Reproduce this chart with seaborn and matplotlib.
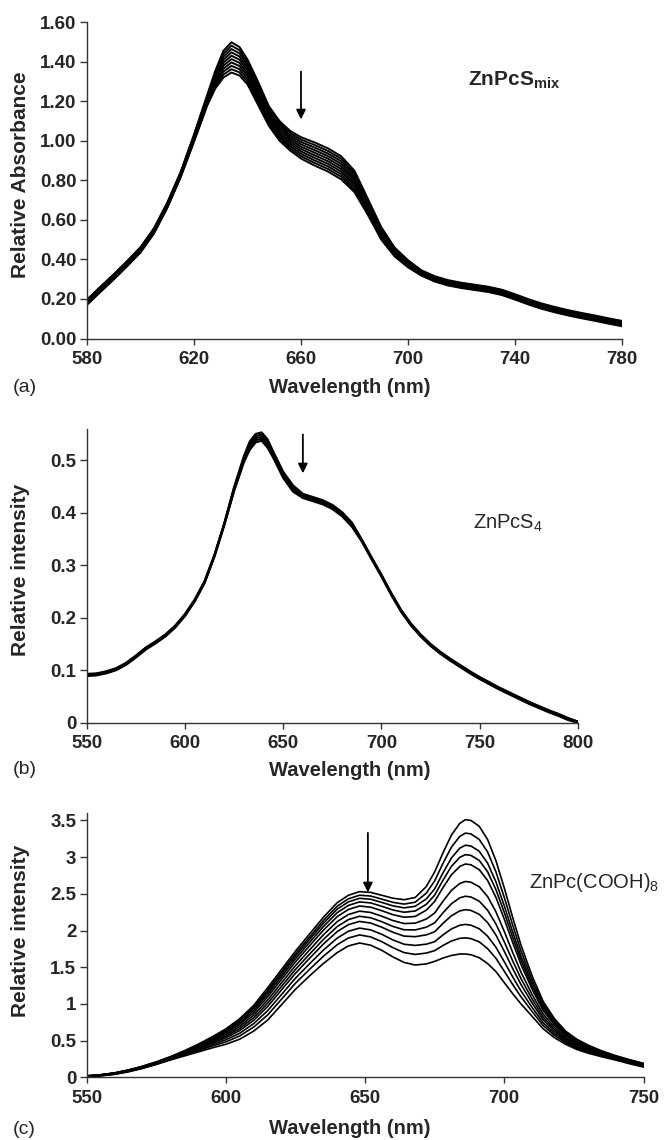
import matplotlib
matplotlib.use("Agg")
import matplotlib.pyplot as plt
import pandas as pd
import seaborn as sns

## Data
# (a) ZnPcS_mix relative absorbance, one list per spectrum (lowest peak first)
wl_a = [580, 585, 590, 595, 600, 605, 610, 615, 620, 625, 628, 631, 634, 637, 640, 644, 648, 652, 656, 660,
        665, 670, 675, 680, 685, 690, 695, 700, 705, 710, 715, 720, 725, 730, 735, 740, 745, 750, 755, 760,
        765, 770, 775, 780]
abs_a = [
    [.170, .235, .298, .365, .435, .530, .660, .815, .995, 1.180, 1.265, 1.320, 1.345, 1.330, 1.285, 1.180, 1.075, 1.000, .950, .910,
     .875, .845, .805, .740, .625, .500, .415, .360, .318, .288, .268, .255, .245, .235, .220, .197, .172, .150, .132, .116,
     .102, .089, .075, .062],
    [.173, .238, .301, .368, .438, .533, .663, .818, .999, 1.186, 1.275, 1.335, 1.362, 1.346, 1.299, 1.193, 1.086, 1.011, .961, .922,
     .888, .858, .818, .752, .634, .507, .420, .364, .321, .291, .271, .258, .248, .238, .223, .200, .175, .153, .135, .119,
     .105, .092, .078, .065],
    [.176, .241, .304, .371, .441, .536, .666, .821, 1.003, 1.192, 1.285, 1.350, 1.379, 1.362, 1.313, 1.206, 1.097, 1.022, .972, .934,
     .901, .871, .831, .764, .643, .514, .425, .368, .324, .294, .274, .261, .251, .241, .226, .203, .178, .156, .138, .122,
     .108, .095, .081, .068],
    [.179, .244, .307, .374, .444, .539, .669, .824, 1.007, 1.198, 1.295, 1.365, 1.396, 1.378, 1.327, 1.219, 1.108, 1.033, .983, .946,
     .914, .884, .844, .776, .652, .521, .430, .372, .327, .297, .277, .264, .254, .244, .229, .206, .181, .159, .141, .125,
     .111, .098, .084, .071],
    [.182, .247, .310, .377, .447, .542, .672, .827, 1.011, 1.204, 1.305, 1.380, 1.413, 1.394, 1.341, 1.232, 1.119, 1.044, .994, .958,
     .927, .897, .857, .788, .661, .528, .435, .376, .330, .300, .280, .267, .257, .247, .232, .209, .184, .162, .144, .128,
     .114, .101, .087, .074],
    [.185, .250, .313, .380, .450, .545, .675, .830, 1.015, 1.210, 1.315, 1.395, 1.430, 1.410, 1.355, 1.245, 1.130, 1.055, 1.005, .970,
     .940, .910, .870, .800, .670, .535, .440, .380, .333, .303, .283, .270, .260, .250, .235, .212, .187, .165, .147, .131,
     .117, .104, .090, .077],
    [.188, .253, .316, .383, .453, .548, .678, .833, 1.019, 1.216, 1.325, 1.410, 1.447, 1.426, 1.369, 1.258, 1.141, 1.066, 1.016, .982,
     .953, .923, .883, .812, .679, .542, .445, .384, .336, .306, .286, .273, .263, .253, .238, .215, .190, .168, .150, .134,
     .120, .107, .093, .080],
    [.191, .256, .319, .386, .456, .551, .681, .836, 1.023, 1.222, 1.335, 1.425, 1.464, 1.442, 1.383, 1.271, 1.152, 1.077, 1.027, .994,
     .966, .936, .896, .824, .688, .549, .450, .388, .339, .309, .289, .276, .266, .256, .241, .218, .193, .171, .153, .137,
     .123, .110, .096, .083],
    [.194, .259, .322, .389, .459, .554, .684, .839, 1.027, 1.228, 1.345, 1.440, 1.481, 1.458, 1.397, 1.284, 1.163, 1.088, 1.038, 1.006,
     .979, .949, .909, .836, .697, .556, .455, .392, .342, .312, .292, .279, .269, .259, .244, .221, .196, .174, .156, .140,
     .126, .113, .099, .086],
    [.197, .262, .325, .392, .462, .557, .687, .842, 1.031, 1.234, 1.355, 1.455, 1.498, 1.474, 1.411, 1.297, 1.174, 1.099, 1.049, 1.018,
     .992, .962, .922, .848, .706, .563, .460, .396, .345, .315, .295, .282, .272, .262, .247, .224, .199, .177, .159, .143,
     .129, .116, .102, .089],
]

# (b) ZnPcS4 relative intensity, one list per spectrum
wl_b = [550, 555, 560, 565, 570, 575, 580, 585, 590, 595, 600, 605, 610, 615, 620, 625, 630,
        633, 636, 639, 642, 645,
        650, 655, 660, 665, 670, 675, 680, 685, 690, 695, 700, 705, 710, 715, 720, 725, 730, 735, 740,
        745, 750, 755, 760, 765, 770, 775, 780, 785, 790, 795, 800]
int_b = [
    [.089, .090, .094, .100, .110, .124, .139, .151, .164, .181, .203, .231, .266, .316, .376, .441, .496,
     .520, .534, .537, .524, .504,
     .466, .440, .428, .422, .416, .407, .393, .373, .345, .311, .278, .243, .211, .185, .164, .146, .131, .118, .106,
     .094, .083, .073, .063, .054, .045, .036, .028, .020, .013, .005, .000],
    [.090, .091, .095, .101, .111, .125, .140, .152, .165, .182, .204, .232, .267, .317, .377, .443, .499,
     .524, .538, .541, .528, .507,
     .469, .443, .430, .424, .418, .409, .395, .375, .346, .312, .279, .244, .212, .186, .165, .147, .132, .119, .107,
     .095, .084, .074, .064, .055, .046, .037, .029, .021, .014, .006, .000],
    [.091, .092, .096, .102, .112, .126, .141, .153, .166, .183, .205, .233, .268, .318, .378, .445, .502,
     .528, .542, .545, .532, .510,
     .472, .446, .432, .426, .420, .411, .397, .377, .347, .313, .280, .245, .213, .187, .166, .148, .133, .120, .108,
     .096, .085, .075, .065, .056, .047, .038, .030, .022, .015, .007, .001],
    [.092, .093, .097, .103, .113, .127, .142, .154, .167, .184, .206, .234, .269, .319, .379, .447, .505,
     .532, .546, .549, .536, .513,
     .475, .449, .434, .428, .422, .413, .399, .379, .348, .314, .281, .246, .214, .188, .167, .149, .134, .121, .109,
     .097, .086, .076, .066, .057, .048, .039, .031, .023, .016, .008, .002],
    [.093, .094, .098, .104, .114, .128, .143, .155, .168, .185, .207, .235, .270, .320, .380, .449, .508,
     .536, .550, .553, .540, .516,
     .478, .452, .436, .430, .424, .415, .401, .381, .349, .315, .282, .247, .215, .189, .168, .150, .135, .122, .110,
     .098, .087, .077, .067, .058, .049, .040, .032, .024, .017, .009, .002],
]

# (c) ZnPc(COOH)8 relative intensity: one row per wavelength, 11 spectra (highest first)
wl_c = [550, 555, 560, 565, 570, 575, 580, 585, 590, 595, 600, 605, 610, 615, 620, 625, 630, 635, 640,
        644, 648, 652, 656, 660, 664, 668, 672, 675, 678, 681, 684, 686, 688, 691, 694, 697, 700, 703, 706,
        710, 714, 718, 722, 726, 730, 735, 740, 745, 750]
rows_c = [
    [.020, .019, .019, .018, .017, .016, .015, .014, .013, .012, .010],
    [.035, .034, .033, .032, .031, .029, .028, .026, .024, .022, .020],
    [.060, .059, .057, .056, .054, .052, .050, .048, .046, .043, .040],
    [.100, .098, .097, .095, .093, .091, .088, .086, .082, .079, .075],
    [.150, .148, .146, .144, .142, .139, .136, .133, .129, .125, .120],
    [.210, .208, .205, .203, .200, .197, .193, .190, .185, .180, .175],
    [.280, .277, .274, .271, .267, .263, .258, .254, .248, .242, .235],
    [.360, .355, .351, .346, .340, .333, .326, .319, .310, .301, .290],
    [.450, .443, .436, .429, .421, .410, .400, .389, .375, .361, .345],
    [.550, .540, .531, .520, .508, .493, .478, .463, .444, .424, .400],
    [.660, .645, .633, .618, .601, .580, .559, .538, .511, .483, .450],
    [.800, .780, .764, .744, .722, .694, .666, .638, .601, .564, .520],
    [.980, .956, .935, .910, .882, .847, .812, .777, .732, .685, .630],
    [1.220, 1.189, 1.163, 1.132, 1.097, 1.053, 1.009, .965, .908, .849, .780],
    [1.470, 1.436, 1.408, 1.374, 1.336, 1.288, 1.240, 1.192, 1.129, 1.065, .990],
    [1.720, 1.684, 1.652, 1.616, 1.574, 1.522, 1.470, 1.418, 1.351, 1.282, 1.200],
    [1.950, 1.910, 1.876, 1.836, 1.790, 1.733, 1.676, 1.619, 1.545, 1.469, 1.380],
    [2.180, 2.136, 2.098, 2.054, 2.004, 1.941, 1.878, 1.815, 1.733, 1.649, 1.550],
    [2.380, 2.332, 2.292, 2.244, 2.190, 2.122, 2.054, 1.986, 1.897, 1.807, 1.700],
    [2.480, 2.432, 2.390, 2.342, 2.287, 2.218, 2.149, 2.080, 1.990, 1.898, 1.790],
    [2.530, 2.481, 2.439, 2.390, 2.334, 2.264, 2.194, 2.124, 2.033, 1.940, 1.830],
    [2.520, 2.470, 2.426, 2.376, 2.318, 2.246, 2.174, 2.102, 2.009, 1.913, 1.800],
    [2.480, 2.428, 2.383, 2.330, 2.270, 2.195, 2.120, 2.045, 1.948, 1.848, 1.730],
    [2.440, 2.384, 2.336, 2.280, 2.216, 2.136, 2.056, 1.976, 1.872, 1.766, 1.640],
    [2.420, 2.360, 2.309, 2.249, 2.181, 2.095, 2.010, 1.924, 1.813, 1.699, 1.565],
    [2.450, 2.386, 2.330, 2.266, 2.192, 2.100, 2.008, 1.916, 1.797, 1.674, 1.530],
    [2.600, 2.510, 2.431, 2.357, 2.278, 2.157, 2.046, 1.941, 1.814, 1.693, 1.545],
    [2.800, 2.678, 2.568, 2.483, 2.397, 2.239, 2.105, 1.983, 1.848, 1.726, 1.580],
    [3.060, 2.917, 2.787, 2.687, 2.586, 2.400, 2.242, 2.099, 1.941, 1.797, 1.625],
    [3.300, 3.136, 2.988, 2.874, 2.759, 2.546, 2.365, 2.201, 2.021, 1.857, 1.660],
    [3.460, 3.282, 3.122, 2.997, 2.873, 2.641, 2.445, 2.267, 2.072, 1.894, 1.680],
    [3.510, 3.327, 3.162, 3.034, 2.906, 2.668, 2.467, 2.284, 2.083, 1.900, 1.680],
    [3.500, 3.317, 3.152, 3.024, 2.896, 2.658, 2.457, 2.274, 2.073, 1.890, 1.670],
    [3.420, 3.241, 3.080, 2.955, 2.829, 2.597, 2.400, 2.221, 2.024, 1.845, 1.630],
    [3.240, 3.071, 2.919, 2.801, 2.682, 2.463, 2.277, 2.108, 1.922, 1.753, 1.550],
    [2.950, 2.799, 2.663, 2.557, 2.452, 2.255, 2.089, 1.938, 1.772, 1.621, 1.440],
    [2.580, 2.451, 2.335, 2.245, 2.154, 1.987, 1.845, 1.716, 1.574, 1.445, 1.290],
    [2.180, 2.076, 1.982, 1.910, 1.837, 1.702, 1.587, 1.483, 1.369, 1.265, 1.140],
    [1.800, 1.720, 1.648, 1.592, 1.536, 1.432, 1.344, 1.264, 1.176, 1.096, 1.000],
    [1.380, 1.325, 1.276, 1.237, 1.199, 1.127, 1.067, 1.012, .951, .896, .830],
    [1.030, .993, .960, .934, .908, .860, .819, .782, .741, .704, .660],
    [.800, .774, .751, .732, .714, .680, .652, .626, .597, .571, .540],
    [.630, .612, .596, .583, .571, .547, .527, .509, .490, .472, .450],
    [.520, .506, .493, .484, .474, .456, .440, .426, .411, .397, .380],
    [.440, .429, .419, .411, .404, .389, .377, .366, .354, .343, .330],
    [.360, .352, .345, .339, .334, .323, .314, .306, .298, .290, .280],
    [.295, .289, .284, .279, .275, .267, .261, .255, .248, .242, .235],
    [.240, .235, .230, .226, .222, .215, .209, .203, .197, .192, .185],
    [.190, .185, .181, .177, .174, .167, .162, .157, .151, .146, .140],
]

xticks_a = [580, 620, 660, 700, 740, 780]
yticks_a = [0.0, 0.2, 0.4, 0.6, 0.8, 1.0, 1.2, 1.4, 1.6]
xticks_b = [550, 600, 650, 700, 750, 800]
yticks_b = [0, 0.1, 0.2, 0.3, 0.4, 0.5]
xticks_c = [550, 600, 650, 700, 750]
yticks_c = [0, 0.5, 1, 1.5, 2, 2.5, 3, 3.5]


def curvesToLong(wl, curves) -> pd.DataFrame:
    ''' Stacks a list of spectra (one list per curve) into one long data frame '''
    frames = [pd.DataFrame({'wl': wl, 'val': c, 'curve': i}) for i, c in enumerate(curves)]
    return pd.concat(frames, ignore_index=True)


def rowsToLong(wl, rows) -> pd.DataFrame:
    ''' Same, for a table stored one row per wavelength '''
    recs = [(w, v, i) for w, row in zip(wl, rows) for i, v in enumerate(row)]
    return pd.DataFrame(recs, columns=['wl', 'val', 'curve'])


def styleAxis(ax, xticks, yticks, ylabels, xlim, ylim):
    ax.set_xlim(*xlim)
    ax.set_ylim(*ylim)
    ax.set_xticks(xticks)
    ax.set_xticklabels([str(t) for t in xticks])
    ax.set_yticks(yticks)
    ax.set_yticklabels(ylabels)
    sns.despine(ax=ax)
    for s in ['left', 'bottom']:
        ax.spines[s].set_linewidth(1.0)
        ax.spines[s].set_color('#333333')
    ax.tick_params(axis='x', direction='out', length=4, width=1.0, color='#333333',
                   labelsize=13.5, pad=5)
    ax.tick_params(axis='y', direction='out', length=5, width=1.0, color='#333333',
                   labelsize=13.5, pad=2.5)
    for lab in ax.get_xticklabels() + ax.get_yticklabels():
        lab.set_fontweight('bold')
    ax.set_xlabel('')
    ax.set_ylabel('')


sns.set_style('ticks')
plt.rcParams['font.family'] = ['Liberation Sans', 'DejaVu Sans']
plt.rcParams['mathtext.fontset'] = 'custom'
plt.rcParams['mathtext.rm'] = 'Liberation Sans'
plt.rcParams['mathtext.bf'] = 'Liberation Sans:bold'

W, H = 664, 1140
fig = plt.figure(figsize=(W / 100, H / 100), dpi=100)

ax_a = fig.add_axes([87 / W, 1 - 338.5 / H, 535 / W, 316.4 / H])
ax_b = fig.add_axes([86.7 / W, 1 - 722.7 / H, 491.3 / W, 294 / H])
ax_c = fig.add_axes([86.7 / W, 1 - 1077.3 / H, 556.8 / W, 264.2 / H])

arrow = dict(arrowstyle='-|>', color='black', lw=1.3, mutation_scale=14, shrinkA=0, shrinkB=0)

# (a)
sns.lineplot(data=curvesToLong(wl_a, abs_a), x='wl', y='val', units='curve', estimator=None,
             color='black', lw=1.4, ax=ax_a)
styleAxis(ax_a, xticks_a, yticks_a, ['%.2f' % t for t in yticks_a], (580, 780), (0, 1.6))
ax_a.annotate('', xy=(660, 1.108), xytext=(660, 1.35), arrowprops=arrow)
ax_a.text(722.4, 1.307, r'ZnPcS$_{\mathbf{mix}}$', fontsize=15, fontweight='bold', va='center')

# (b)
sns.lineplot(data=curvesToLong(wl_b, int_b), x='wl', y='val', units='curve', estimator=None,
             color='black', lw=1.5, ax=ax_b)
styleAxis(ax_b, xticks_b, yticks_b, ['%g' % t for t in yticks_b], (550, 800), (0, 0.56))
ax_b.annotate('', xy=(660, 0.475), xytext=(660, 0.549), arrowprops=arrow)
ax_b.text(746.4, 0.38, r'ZnPcS$_4$', fontsize=14.5, va='center')

# (c)
sns.lineplot(data=rowsToLong(wl_c, rows_c), x='wl', y='val', units='curve', estimator=None,
             color='black', lw=1.2, ax=ax_c)
styleAxis(ax_c, xticks_c, yticks_c, ['%g' % t for t in yticks_c], (550, 750), (0, 3.6))
ax_c.annotate('', xy=(651, 2.52), xytext=(651, 3.33), arrowprops=arrow)
ax_c.text(708.9, 2.66, r'ZnPc(COOH)$_8$', fontsize=14.5, va='center', clip_on=False)

# axis titles and panel letters placed in figure pixels
for ycen, ylab, ymid, letter in [(388, 'Relative Absorbance', 175, '(a)'),
                                 (770, 'Relative intensity', 570, '(b)'),
                                 (1129, 'Relative intensity', 931, '(c)')]:
    fig.text(350 / W, 1 - ycen / H, 'Wavelength (nm)', fontsize=14.5, fontweight='bold',
             ha='center', va='center')
    fig.text(21 / W, 1 - ymid / H, ylab, fontsize=15, fontweight='bold', rotation=90,
             ha='center', va='center')
    fig.text(13 / W, 1 - ycen / H, letter, fontsize=14, ha='left', va='center')

fig.savefig('out.png', dpi=100)
